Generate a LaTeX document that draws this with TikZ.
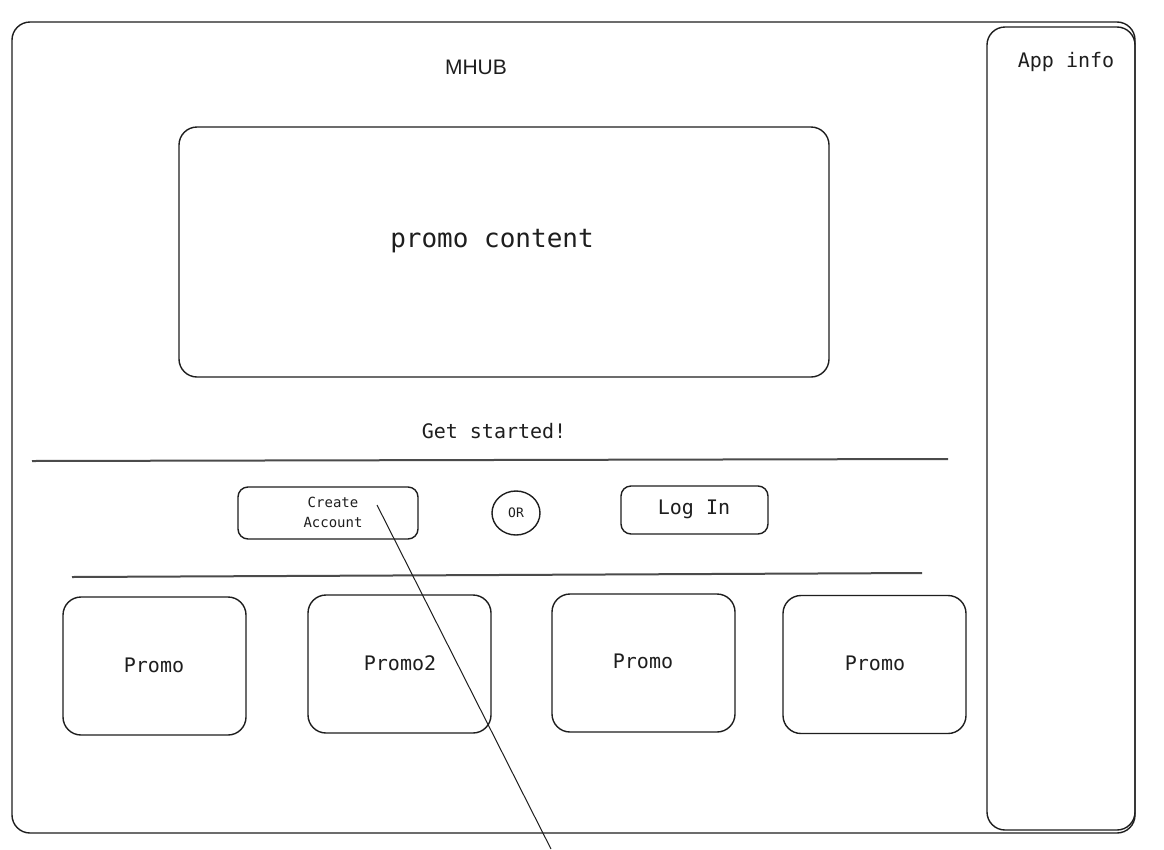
\documentclass[tikz,border=0pt]{standalone}
\usepackage{fontspec}
\setmainfont{Liberation Sans}
\newfontfamily\monof{DejaVu Sans Mono}
\usetikzlibrary{shapes.geometric}
\definecolor{ink}{RGB}{30,30,30}
\begin{document}
\begin{tikzpicture}[x=1pt,y=-1pt,
  box/.style={draw=ink,line width=1.4pt,rounded corners=18pt,inner sep=0pt},
  lbl/.style={inner sep=0pt,text=ink,font=\monof\fontsize{20}{24}\selectfont},
  sep/.style={draw=ink!80,line width=2pt},
  link/.style={draw=ink,line width=1pt}]
\useasboundingbox (0,0) rectangle (1164,849);
\fill[white] (0,0) rectangle (1164,849);
% frames
\node[box,minimum width=1123pt,minimum height=811pt] (frame) at (573.5,427.5) {};
\node[box,minimum width=148pt,minimum height=803pt] (appinfo) at (1061,428.5) {};
\node[lbl] (appinfotxt) at (1066,62) {App info};
\node[inner sep=0pt,text=ink,font=\fontsize{21}{24}\selectfont] (title) at (476,67) {MHUB};
% promo content
\node[box,minimum width=650pt,minimum height=250pt] (promo) at (504,252) {};
\node[lbl,font=\monof\fontsize{26}{30}\selectfont] (promotxt) at (492,241) {promo content};
\node[lbl] (getstarted) at (494,431) {Get started!};
% separators
\coordinate (sepAl) at (32,461);
\coordinate (sepAr) at (948,459);
\coordinate (sepBl) at (72,577);
\coordinate (sepBr) at (922,573);
\draw[sep] (sepAl) -- (sepAr);
\draw[sep] (sepBl) -- (sepBr);
% buttons
\node[box,rounded corners=10pt,minimum width=180pt,minimum height=52pt] (create) at (328,513) {};
\node[lbl,font=\monof\fontsize{14}{20}\selectfont,align=center] (createtxt) at (333,512) {Create\\Account};
\node[draw=ink,line width=1.4pt,ellipse,minimum width=48pt,minimum height=44pt,inner sep=0pt,text=ink,font=\monof\fontsize{13}{15}\selectfont] (or) at (516,513) {OR};
\node[box,rounded corners=10pt,minimum width=147pt,minimum height=48pt] (login) at (694.5,510) {};
\node[lbl] (logintxt) at (694,509) {Log In};
% promo tiles
\node[box,minimum width=183pt,minimum height=138pt] (p1) at (154.5,666) {};
\node[box,minimum width=183pt,minimum height=138pt] (p2) at (399.5,664) {};
\node[box,minimum width=183pt,minimum height=138pt] (p3) at (643.5,663) {};
\node[box,minimum width=183pt,minimum height=138pt] (p4) at (874.5,664.5) {};
\node[lbl] (p1txt) at (154,665) {Promo};
\node[lbl] (p2txt) at (400,663) {Promo2};
\node[lbl] (p3txt) at (643,661) {Promo};
\node[lbl] (p4txt) at (875,663) {Promo};
% connector
\coordinate (lnA) at (377,505);
\coordinate (lnB) at (551,849);
\draw[link] (lnA) -- (lnB);
\end{tikzpicture}
\end{document}
